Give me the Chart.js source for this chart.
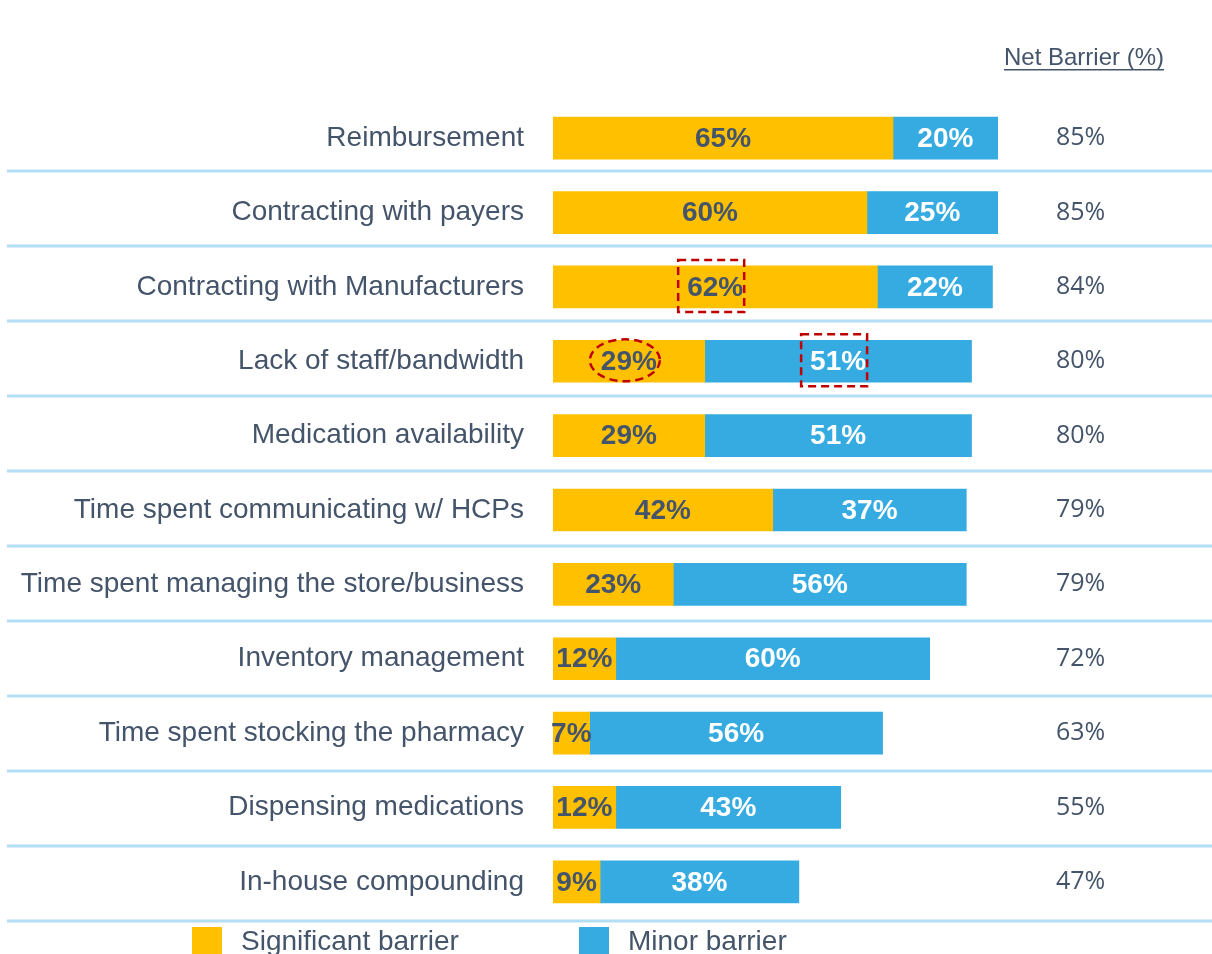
<!DOCTYPE html>
<html lang="en">

<head>
    <meta charset="UTF-8">
    <title>Pharmacy Barriers</title>
    <script src="https://cdn.jsdelivr.net/npm/chart.js"></script>
    <style>
        body { margin: 0; background: #fff; }
        #wrap { width: 1212px; height: 954px; }
    </style>
</head>

<body>
    <div id="wrap"><canvas id="barrierChart"></canvas></div>

    <script>
        const categories = [
            'Reimbursement',
            'Contracting with payers',
            'Contracting with Manufacturers',
            'Lack of staff/bandwidth',
            'Medication availability',
            'Time spent communicating w/ HCPs',
            'Time spent managing the store/business',
            'Inventory management',
            'Time spent stocking the pharmacy',
            'Dispensing medications',
            'In-house compounding'
        ];
        const significant = [65, 60, 62, 29, 29, 42, 23, 12, 7, 12, 9];
        const minor = [20, 25, 22, 51, 51, 37, 56, 60, 56, 43, 38];
        const netBarrier = [85, 85, 84, 80, 80, 79, 79, 72, 63, 55, 47];
        const seriesNames = ['Significant barrier', 'Minor barrier'];
        // labels marked in red on the slide: [row, series, shape]
        const highlights = [[2, 0, 'rect'], [3, 0, 'ellipse'], [3, 1, 'rect']];

        const TEXT = '#44546A';
        const FONT = '"Liberation Sans", Arial, sans-serif';

        // bar values, row lines, header, legend and the red marks
        const extras = {
            id: 'extras',
            afterDatasetsDraw(chart) {
                const ctx = chart.ctx;
                ctx.save();

                ctx.font = 'bold 28px ' + FONT;
                ctx.textAlign = 'center';
                ctx.textBaseline = 'middle';
                chart.data.datasets.forEach((ds, di) => {
                    chart.getDatasetMeta(di).data.forEach((bar, i) => {
                        ctx.fillStyle = di === 0 ? TEXT : '#fff';
                        ctx.fillText(ds.data[i] + '%', (bar.x + bar.base) / 2, bar.y + 1);
                    });
                });

                ctx.strokeStyle = '#C00000';
                ctx.lineWidth = 2.5;
                ctx.setLineDash([8, 5]);
                highlights.forEach(([row, di, shape]) => {
                    const bar = chart.getDatasetMeta(di).data[row];
                    const cx = (bar.x + bar.base) / 2 - 4;
                    const cy = bar.y - 1;
                    ctx.beginPath();
                    if (shape === 'rect') ctx.rect(cx - 33, cy - 26, 66, 52);
                    else ctx.ellipse(cx, cy, 35, 21, 0, 0, Math.PI * 2);
                    ctx.stroke();
                });
                ctx.setLineDash([]);

                // table rules under each row
                const y = chart.scales.y;
                const rowH = (y.bottom - y.top + 7) / categories.length;
                ctx.strokeStyle = '#B4DEF3';
                ctx.lineWidth = 3;
                categories.forEach((c, i) => {
                    const ly = Math.round(y.top - 5 + rowH * (i + 1));
                    ctx.beginPath();
                    ctx.moveTo(7, ly);
                    ctx.lineTo(chart.width, ly);
                    ctx.stroke();
                });

                ctx.fillStyle = TEXT;
                ctx.font = '24px ' + FONT;
                ctx.textAlign = 'right';
                const head = 'Net Barrier (%)';
                const hx = chart.width - 48;
                ctx.fillText(head, hx, 58);
                const hw = ctx.measureText(head).width;
                ctx.fillRect(hx - hw, 69, hw, 1.5);

                const legendX = [192, 579];
                ctx.font = '28px ' + FONT;
                ctx.textAlign = 'left';
                chart.data.datasets.forEach((ds, di) => {
                    ctx.fillStyle = ds.backgroundColor;
                    ctx.fillRect(legendX[di], 927, 30, 30);
                    ctx.fillStyle = TEXT;
                    ctx.fillText(ds.label, legendX[di] + 49, 942);
                });

                ctx.restore();
            }
        };

        new Chart(document.getElementById('barrierChart'), {
            type: 'bar',
            data: {
                labels: categories,
                datasets: [{
                    label: seriesNames[0],
                    data: significant,
                    backgroundColor: '#FFC000',
                    barThickness: 42
                }, {
                    label: seriesNames[1],
                    data: minor,
                    backgroundColor: '#35ABE1',
                    barThickness: 42
                }]
            },
            options: {
                indexAxis: 'y',
                responsive: true,
                maintainAspectRatio: false,
                animation: false,
                layout: { padding: { top: 101, bottom: 35 } },
                plugins: {
                    legend: { display: false },
                    tooltip: { enabled: false }
                },
                scales: {
                    x: { stacked: true, min: 0, max: 95, display: false },
                    y: {
                        stacked: true,
                        grid: { display: false, drawTicks: false },
                        border: { display: false },
                        ticks: { color: TEXT, padding: 29, font: { family: FONT, size: 28 } },
                        afterFit(axis) {
                            axis.width = 553;
                            axis.paddingTop = 0;
                            axis.paddingBottom = 0;
                        }
                    },
                    y2: {
                        type: 'category',
                        position: 'right',
                        labels: netBarrier.map(v => v + '%'),
                        offset: true,
                        grid: { display: false, drawTicks: false },
                        border: { display: false },
                        ticks: { color: TEXT, padding: 6, crossAlign: 'center', font: { family: '"Open Sans", sans-serif', size: 25 } },
                        afterFit(axis) {
                            axis.width = 162;
                            axis.paddingTop = 0;
                            axis.paddingBottom = 0;
                        }
                    }
                }
            },
            plugins: [extras]
        });
    </script>
</body>

</html>
